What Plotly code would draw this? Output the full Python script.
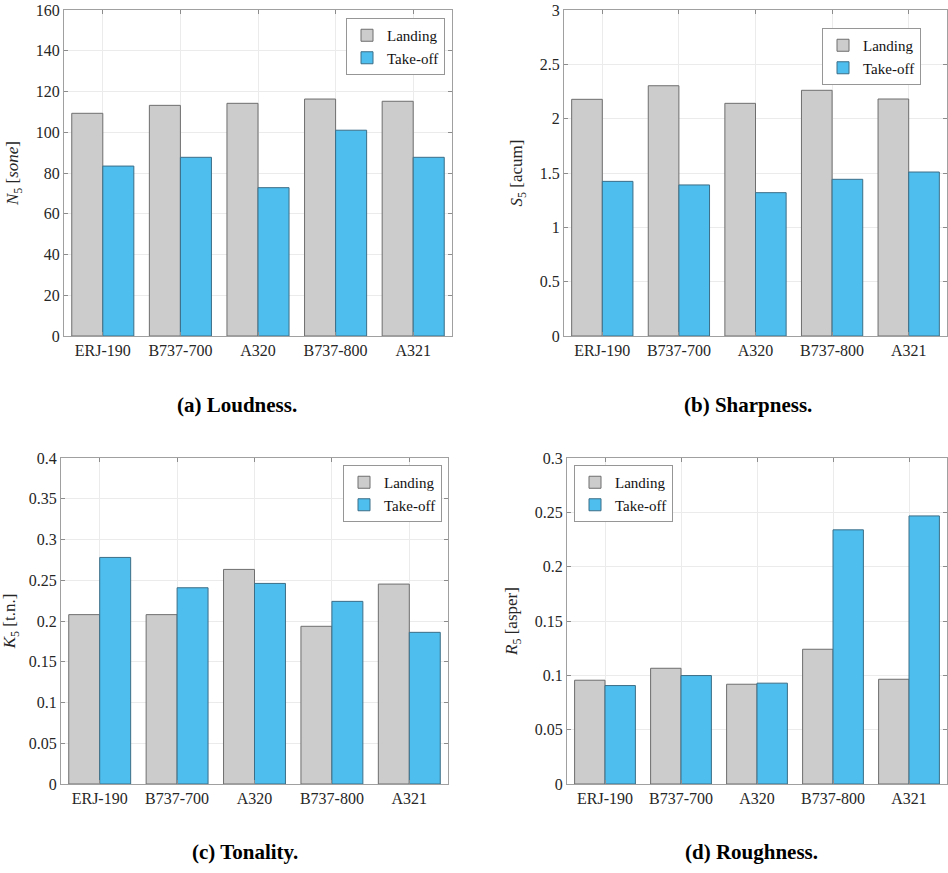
import plotly.graph_objects as go

aircraft = ["ERJ-190", "B737-700", "A320", "B737-800", "A321"]
series_names = ["Landing", "Take-off"]

loud_landing = [109.3, 113.2, 114.2, 116.3, 115.2]
loud_takeoff = [83.4, 87.7, 72.8, 101.0, 87.7]

sharp_landing = [2.178, 2.303, 2.141, 2.261, 2.181]
sharp_takeoff = [1.423, 1.390, 1.319, 1.442, 1.509]

tonal_landing = [0.2078, 0.2078, 0.2633, 0.1935, 0.2453]
tonal_takeoff = [0.2780, 0.2408, 0.2461, 0.2241, 0.1861]

rough_landing = [0.0955, 0.1065, 0.0918, 0.1240, 0.0964]
rough_takeoff = [0.0906, 0.0998, 0.0928, 0.2339, 0.2467]

loud_ticks = [0, 20, 40, 60, 80, 100, 120, 140, 160]
sharp_ticks = [0, 0.5, 1, 1.5, 2, 2.5, 3]
tonal_ticks = [0, 0.05, 0.1, 0.15, 0.2, 0.25, 0.3, 0.35, 0.4]
rough_ticks = [0, 0.05, 0.1, 0.15, 0.2, 0.25, 0.3]

captions = ["(a) Loudness.", "(b) Sharpness.", "(c) Tonality.", "(d) Roughness."]
ylabels = [
    "<i>N</i><sub>5</sub> [<i>sone</i>]",
    "<i>S</i><sub>5</sub> [acum]",
    "<i>K</i><sub>5</sub> [t.n.]",
    "<i>R</i><sub>5</sub> [asper]",
]

W, H = 948, 873
GREY = "rgb(204,204,204)"
BLUE = "rgb(77,190,238)"
SERIF = "Liberation Serif"
TICKFONT = dict(family=SERIF, size=16, color="#262626")

panels = [
    dict(land=loud_landing, take=loud_takeoff, ticks=loud_ticks,
         px=(64, 452), py=(10, 336)),
    dict(land=sharp_landing, take=sharp_takeoff, ticks=sharp_ticks,
         px=(564, 947), py=(10, 336)),
    dict(land=tonal_landing, take=tonal_takeoff, ticks=tonal_ticks,
         px=(61, 448), py=(458, 784)),
    dict(land=rough_landing, take=rough_takeoff, ticks=rough_ticks,
         px=(567, 947), py=(458, 784)),
]
legend_pos = [(445, 18, "right"), (921, 28, "right"), (442, 465, "right"), (574, 465, "left")]
caption_pos = [(237, 405), (748, 405), (245, 852), (751, 852)]


def fx(px):
    return px / W


def fy(py):
    return 1 - py / H


fig = go.Figure()
layout = {}
for i, p in enumerate(panels):
    k = "" if i == 0 else str(i + 1)
    leg = "legend" if i == 0 else f"legend{i + 1}"
    for name, vals, col, edge in [
        (series_names[0], p["land"], GREY, "rgb(110,110,110)"),
        (series_names[1], p["take"], BLUE, "rgb(60,110,135)"),
    ]:
        fig.add_trace(go.Bar(
            x=aircraft, y=vals, name=name, marker=dict(color=col, line=dict(color=edge, width=1)),
            xaxis="x" + k, yaxis="y" + k, legend=leg, showlegend=True,
        ))
    layout["xaxis" + k] = dict(
        domain=[fx(p["px"][0]), fx(p["px"][1])], anchor="y" + k,
        type="category", showgrid=True, gridcolor="rgb(235,235,235)",
        showline=True, linecolor="rgb(160,160,160)", linewidth=1, mirror="ticks",
        ticks="inside", ticklen=4, tickcolor="rgb(140,140,140)",
        tickfont=TICKFONT, automargin=False, fixedrange=True, ticklabeloverflow="allow",
    )
    layout["yaxis" + k] = dict(
        domain=[fy(p["py"][1]), fy(p["py"][0])], anchor="x" + k,
        range=[p["ticks"][0], p["ticks"][-1]], tickvals=p["ticks"],
        ticktext=[("%g" % t) for t in p["ticks"]],
        showgrid=True, gridcolor="rgb(235,235,235)", zeroline=False,
        showline=True, linecolor="rgb(160,160,160)", linewidth=1, mirror="ticks",
        ticks="inside", ticklen=4, tickcolor="rgb(140,140,140)",
        tickfont=TICKFONT, automargin=False, fixedrange=True, ticklabeloverflow="allow",
        title=dict(text=ylabels[i], font=dict(family=SERIF, size=17, color="#262626"), standoff=12),
    )
    lx, ly, side = legend_pos[i]
    layout[leg] = dict(
        x=fx(lx), y=fy(ly), xanchor=side, yanchor="top",
        bgcolor="white", bordercolor="rgb(150,150,150)", borderwidth=1,
        font=dict(family=SERIF, size=15, color="#111"),
        tracegroupgap=0, itemwidth=30, traceorder="normal",
    )

annotations = []
for (cx, cy), txt in zip(caption_pos, captions):
    annotations.append(dict(
        text="<b>%s</b>" % txt, x=fx(cx), y=fy(cy), xref="paper", yref="paper",
        showarrow=False, xanchor="center", yanchor="middle",
        font=dict(family=SERIF, size=21, color="black"),
    ))

fig.update_layout(
    width=W, height=H, margin=dict(l=0, r=0, t=0, b=0),
    font=dict(family=SERIF, size=15, color="#262626"),
    paper_bgcolor="white", plot_bgcolor="white",
    barmode="group", bargap=0.2, bargroupgap=0.0,
    annotations=annotations, **layout,
)

fig.write_html(
    "out.html",
    config={"displayModeBar": False},
    post_script="document.body.style.margin='0';document.body.style.overflow='hidden';",
)
